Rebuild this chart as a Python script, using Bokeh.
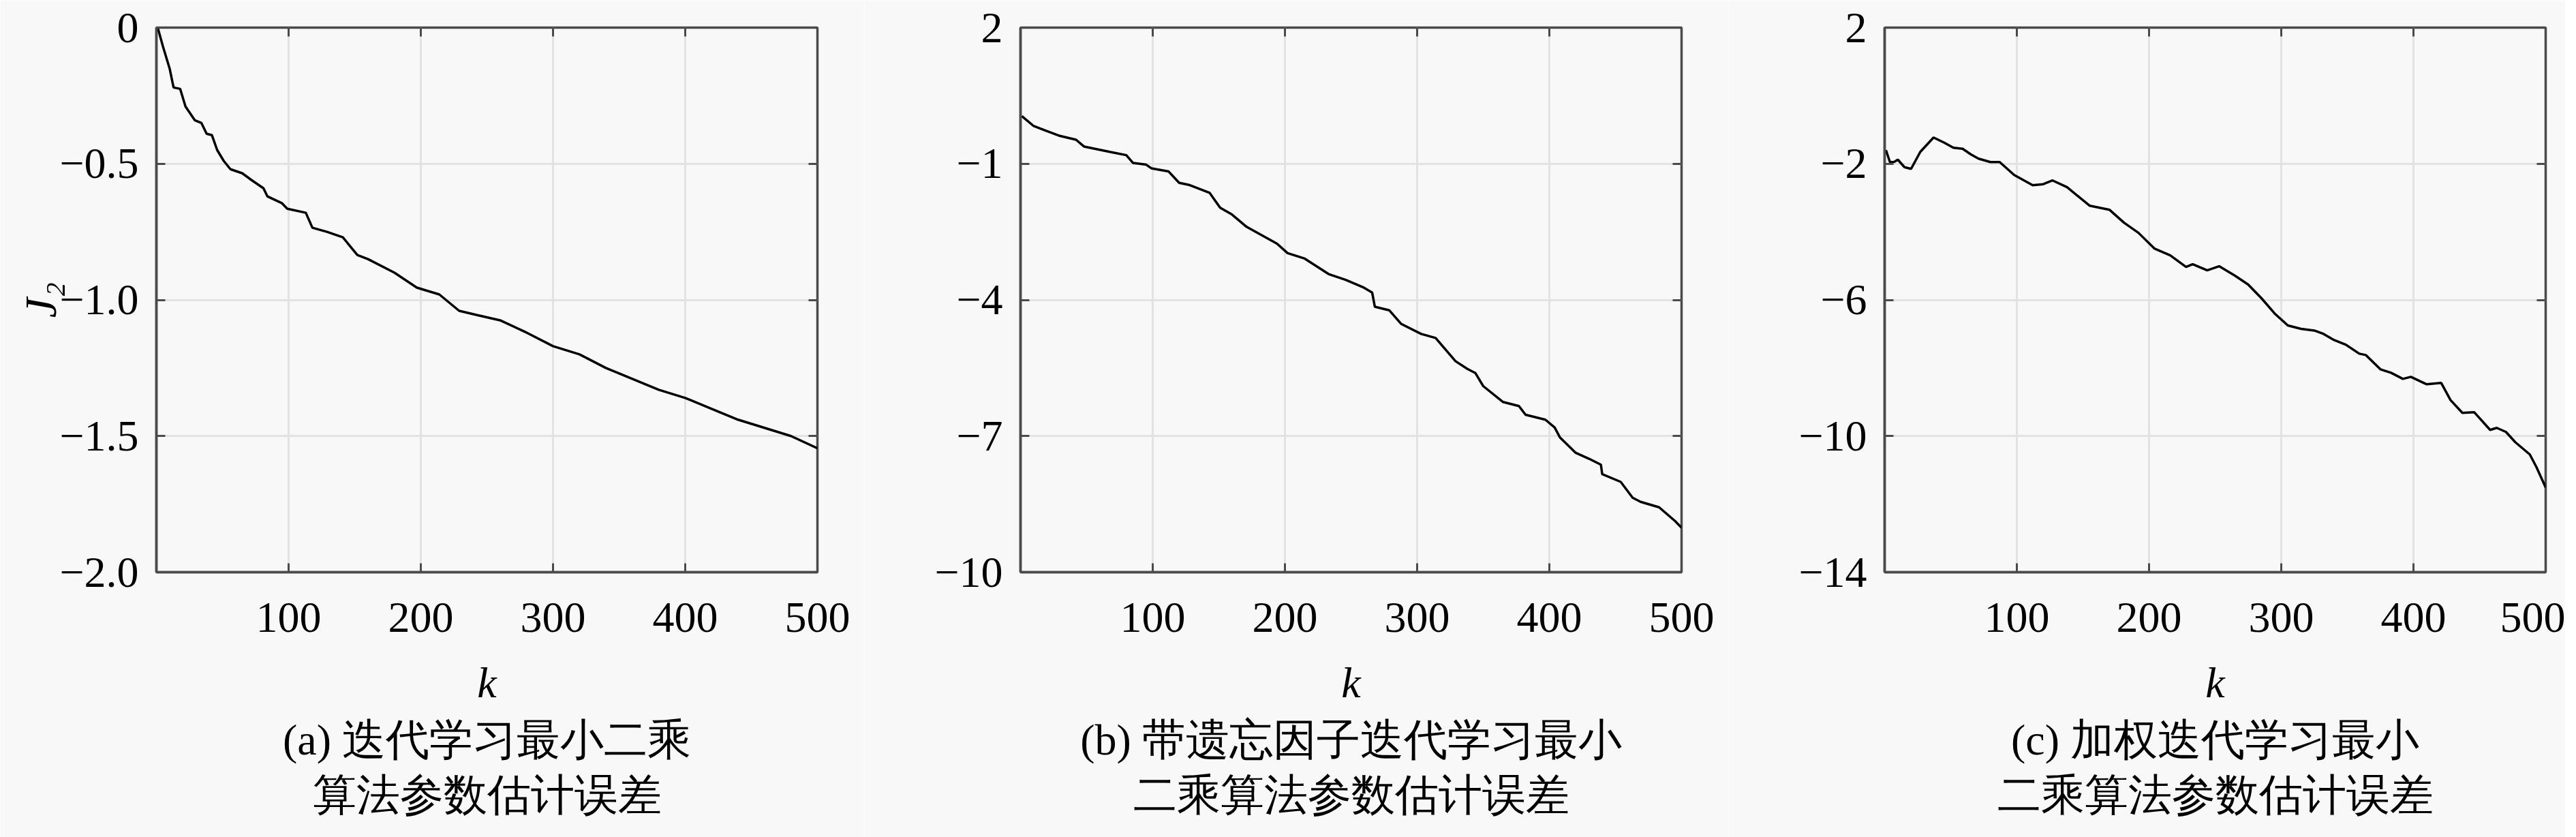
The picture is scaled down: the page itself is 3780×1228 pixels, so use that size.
from bokeh.plotting import figure
from bokeh.models import LinearAxis, FixedTicker, Range1d, CustomJSTickFormatter, Title
from bokeh.layouts import row
from bokeh.embed import file_html
from bokeh.resources import INLINE

# ---------------- data ----------------
k_a = [1, 5, 10, 13, 18, 22, 29, 34, 38, 42, 46, 51, 56, 65, 72, 81, 84, 95, 99,
       113, 118, 129, 141, 152, 160, 180, 197, 214, 229, 242, 260, 280, 300, 320,
       340, 360, 380, 400, 420, 440, 460, 480, 500]
j_a = [0.0, -0.07, -0.15, -0.22, -0.225, -0.29, -0.34, -0.35, -0.39, -0.395, -0.45,
       -0.49, -0.52, -0.535, -0.56, -0.59, -0.62, -0.645, -0.665, -0.68, -0.735,
       -0.75, -0.77, -0.835, -0.85, -0.90, -0.955, -0.98, -1.04, -1.055, -1.075,
       -1.12, -1.17, -1.20, -1.25, -1.29, -1.33, -1.36, -1.40, -1.44, -1.47, -1.50,
       -1.545]

k_b = [1, 3, 10, 19, 29, 42, 48, 68, 80, 85, 95, 99, 112, 120, 128, 143, 151, 160,
       171, 194, 202, 215, 233, 246, 259, 266, 268, 279, 288, 303, 314, 329, 338,
       344, 350, 365, 377, 382, 397, 404, 408, 420, 430, 439, 440, 454, 463, 469,
       483, 495, 500]
j_b = [0.05, 0.0, -0.17, -0.27, -0.38, -0.47, -0.62, -0.74, -0.81, -0.98, -1.02,
       -1.10, -1.17, -1.42, -1.47, -1.64, -1.97, -2.12, -2.39, -2.76, -2.97, -3.09,
       -3.43, -3.56, -3.72, -3.84, -4.15, -4.23, -4.53, -4.75, -4.84, -5.35, -5.52,
       -5.61, -5.90, -6.25, -6.34, -6.53, -6.64, -6.81, -7.03, -7.37, -7.50, -7.63,
       -7.84, -8.01, -8.36, -8.45, -8.57, -8.87, -9.02]

k_c = [1, 4, 7, 10, 15, 20, 27, 37, 45, 52, 59, 65, 71, 80, 87, 98, 112, 120, 127,
       138, 155, 170, 181, 192, 204, 216, 228, 233, 244, 253, 265, 275, 285, 295,
       305, 315, 325, 332, 340, 349, 359, 364, 375, 383, 392, 398, 410, 421, 428,
       437, 446, 458, 463, 470, 477, 488, 493, 500]
j_c = [-1.6, -1.95, -1.95, -1.88, -2.1, -2.15, -1.65, -1.23, -1.38, -1.53, -1.56,
       -1.72, -1.85, -1.95, -1.95, -2.33, -2.63, -2.6, -2.49, -2.69, -3.23, -3.35,
       -3.73, -4.03, -4.49, -4.69, -5.03, -4.95, -5.13, -5.01, -5.29, -5.55, -5.95,
       -6.4, -6.75, -6.85, -6.9, -7.0, -7.18, -7.32, -7.58, -7.62, -8.04, -8.14,
       -8.32, -8.26, -8.48, -8.44, -8.94, -9.32, -9.30, -9.82, -9.76, -9.88,
       -10.18, -10.54, -10.91, -11.51]

x_ticks = [100, 200, 300, 400, 500]
a_yticks = [0, -0.5, -1.0, -1.5, -2.0]
a_ylabels = ["0", "−0.5", "−1.0", "−1.5", "−2.0"]
b_yticks = [2, -1, -4, -7, -10]
b_ylabels = ["2", "−1", "−4", "−7", "−10"]
c_yticks = [2, -2, -6, -10, -14]
c_ylabels = ["2", "−2", "−6", "−10", "−14"]

captions = [
    ("(a) 迭代学习最小二乘", "算法参数估计误差"),
    ("(b) 带遗忘因子迭代学习最小", "二乘算法参数估计误差"),
    ("(c) 加权迭代学习最小", "二乘算法参数估计误差"),
]
x_label = "k"
y_label = "J₂"

# ---------------- style / layout ----------------
BG = "#f8f8f8"
AX = "#4a4a4a"
GRID = "#e2e2e2"
SERIF = "Liberation Serif"
FS = "64px"
LEFT = 229
TOP = 40
BOTTOM = 389
HEIGHT = 1228


def label_formatter(ticks, labels):
    return CustomJSTickFormatter(
        args=dict(t=ticks, l=labels),
        code="const i = t.findIndex(v => Math.abs(v - tick) < 1e-9); return i >= 0 ? l[i] : '';")


def blank_formatter():
    return CustomJSTickFormatter(code="return '';")


def make_panel(ks, js, yticks, ylabels, ymin, ymax, caption, width, mr, ylab=None):
    p = figure(width=width, height=HEIGHT, x_range=Range1d(0, 500), y_range=Range1d(ymin, ymax),
               output_backend="svg", toolbar_location=None,
               min_border_left=LEFT, min_border_right=mr, min_border_top=TOP,
               min_border_bottom=BOTTOM,
               background_fill_color=BG, border_fill_color=BG,
               outline_line_color=AX, outline_line_width=3.5)

    for ax in (p.xaxis[0], p.yaxis[0]):
        ax.axis_line_color = AX
        ax.axis_line_width = 3.5
        ax.major_tick_line_color = AX
        ax.major_tick_line_width = 3
        ax.major_tick_in = 13
        ax.major_tick_out = 0
        ax.minor_tick_line_color = None
        ax.major_label_text_font = SERIF
        ax.major_label_text_font_size = FS
        ax.major_label_text_color = "black"

    p.xaxis.ticker = FixedTicker(ticks=x_ticks)
    p.xaxis.major_label_standoff = 45
    p.xaxis.axis_label = x_label
    p.xaxis.axis_label_text_font = SERIF
    p.xaxis.axis_label_text_font_style = "italic"
    p.xaxis.axis_label_text_font_size = FS
    p.xaxis.axis_label_text_color = "black"
    p.xaxis.axis_label_standoff = 36

    p.yaxis.ticker = FixedTicker(ticks=yticks)
    p.yaxis.formatter = label_formatter(yticks, ylabels)
    p.yaxis.major_label_standoff = 26
    if ylab:
        p.yaxis.axis_label = ylab
        p.yaxis.axis_label_text_font = SERIF
        p.yaxis.axis_label_text_font_style = "italic"
        p.yaxis.axis_label_text_font_size = "66px"
        p.yaxis.axis_label_text_color = "black"
        p.yaxis.axis_label_standoff = -12

    top = LinearAxis(ticker=FixedTicker(ticks=x_ticks), formatter=blank_formatter(),
                     major_label_text_font_size="0px", major_label_standoff=0,
                     axis_line_color=None, major_tick_in=13, major_tick_out=0,
                     major_tick_line_color=AX, major_tick_line_width=3,
                     minor_tick_line_color=None)
    p.add_layout(top, "above")
    right = LinearAxis(ticker=FixedTicker(ticks=yticks), formatter=blank_formatter(),
                       major_label_text_font_size="0px", major_label_standoff=0,
                       axis_line_color=None, major_tick_in=13, major_tick_out=0,
                       major_tick_line_color=AX, major_tick_line_width=3,
                       minor_tick_line_color=None)
    p.add_layout(right, "right")

    p.xgrid.ticker = FixedTicker(ticks=x_ticks)
    p.ygrid.ticker = FixedTicker(ticks=yticks)
    for g in (p.xgrid[0], p.ygrid[0]):
        g.grid_line_color = GRID
        g.grid_line_width = 3

    p.line(ks, js, line_color="black", line_width=3.5)

    for txt, so in ((caption[0], 16), (caption[1], 0)):
        p.add_layout(Title(text=txt, align="center", text_font=SERIF, text_font_size="64px",
                           text_font_style="normal", text_color="black", standoff=so), "below")
    return p


pa = make_panel(k_a, j_a, a_yticks, a_ylabels, -2.0, 0.0, captions[0], 1268, 69, ylab=y_label)
pb = make_panel(k_b, j_b, b_yticks, b_ylabels, -10, 2, captions[1], 1268, 69)
pc = make_panel(k_c, j_c, c_yticks, c_ylabels, -14, 2, captions[2], 1228, 29)

layout = row(pa, pb, pc)
open("out.html", "w").write(file_html(layout, INLINE))
